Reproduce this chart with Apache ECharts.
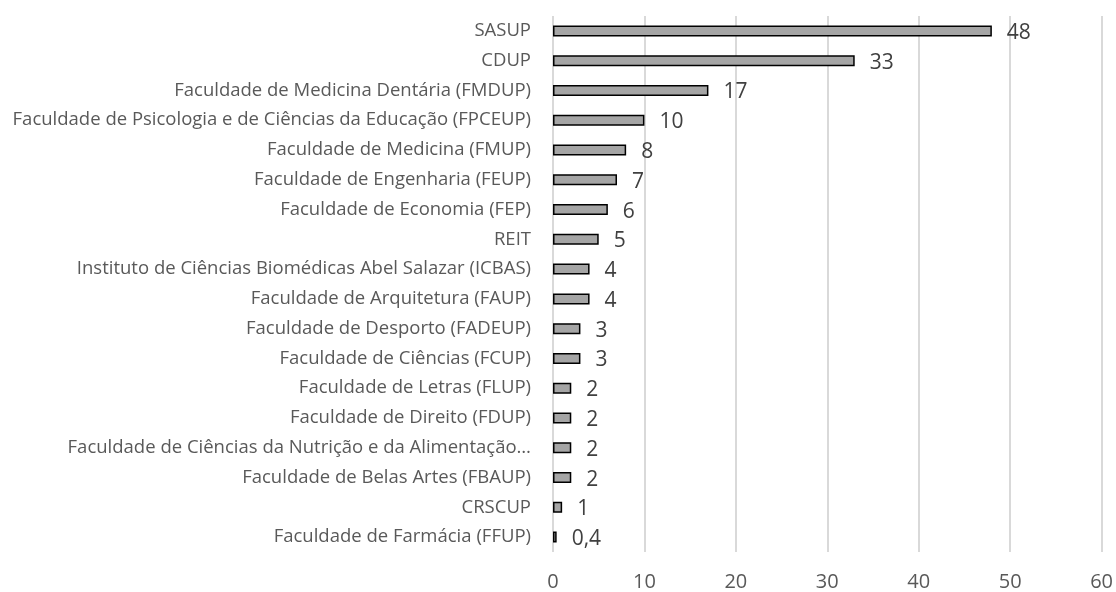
<!DOCTYPE html>
<html><head><meta charset="utf-8">
<script src="https://cdn.jsdelivr.net/npm/echarts@6/dist/echarts.min.js"></script>
<style>html,body{margin:0;padding:0;background:#fff}#c{width:1116px;height:592px}</style>
</head><body><div id="c"></div>
<script>
const categories = [
  "SASUP",
  "CDUP",
  "Faculdade de Medicina Dentária (FMDUP)",
  "Faculdade de Psicologia e de Ciências da Educação (FPCEUP)",
  "Faculdade de Medicina (FMUP)",
  "Faculdade de Engenharia (FEUP)",
  "Faculdade de Economia (FEP)",
  "REIT",
  "Instituto de Ciências Biomédicas Abel Salazar (ICBAS)",
  "Faculdade de Arquitetura (FAUP)",
  "Faculdade de Desporto (FADEUP)",
  "Faculdade de Ciências (FCUP)",
  "Faculdade de Letras (FLUP)",
  "Faculdade de Direito (FDUP)",
  "Faculdade de Ciências da Nutrição e da Alimentação…",
  "Faculdade de Belas Artes (FBAUP)",
  "CRSCUP",
  "Faculdade de Farmácia (FFUP)"
];
const values = [48, 33, 17, 10, 8, 7, 6, 5, 4, 4, 3, 3, 2, 2, 2, 2, 1, 0.4];
const xTicks = [0, 10, 20, 30, 40, 50, 60];

const font = "'Open Sans', 'Liberation Sans', sans-serif";
const chart = echarts.init(document.getElementById('c'));
chart.setOption({
  animation: false,
  grid: { left: 553, right: 14, top: 16, bottom: 36, containLabel: false },
  xAxis: {
    type: 'value', min: xTicks[0], max: xTicks[xTicks.length - 1], interval: 10,
    axisLine: { show: false }, axisTick: { show: false },
    splitLine: { lineStyle: { color: '#d9d9d9', width: 2 } },
    axisLabel: { color: '#595959', fontSize: 20, fontFamily: font, margin: 20 }
  },
  yAxis: {
    type: 'category', inverse: true, data: categories,
    axisLine: { show: false }, axisTick: { show: false },
    axisLabel: { color: '#595959', fontSize: 18.5, fontFamily: font, margin: 22 }
  },
  series: [{
    type: 'bar', data: values, barWidth: 11,
    itemStyle: { color: '#a5a5a5', borderColor: '#000', borderWidth: 1.5 },
    label: {
      show: true, position: 'right', distance: 15, color: '#404040', fontSize: 21, fontFamily: font,
      offset: [0, 2],
      formatter: p => String(p.value).replace('.', ',')
    }
  }]
});
</script></body></html>
